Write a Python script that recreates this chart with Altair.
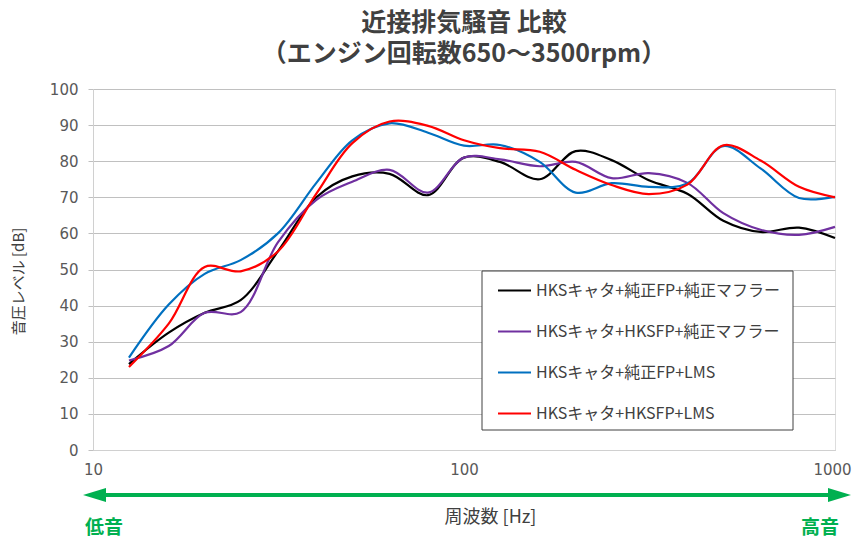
import altair as alt
import pandas as pd

freq = [12.5, 16, 20, 25, 31.5, 40, 50, 63, 80, 100, 125, 160, 200, 250, 315, 400, 500, 630, 800, 1000]

series_names = [
    "HKSキャタ+純正FP+純正マフラー",
    "HKSキャタ+HKSFP+純正マフラー",
    "HKSキャタ+純正FP+LMS",
    "HKSキャタ+HKSFP+LMS",
]
series_colors = ["#000000", "#7030a0", "#0070c0", "#ff0000"]

black = [23.8, 32.5, 38, 41.5, 55, 70, 75.8, 76.5, 70.6, 81, 79.8, 75, 82.8, 80.3, 74.7, 71, 63.5, 60.4, 61.6, 58.7]
purple = [24.8, 28.8, 38, 38.2, 57.5, 69.3, 74.3, 77.6, 71.3, 81, 80.5, 78.6, 79.8, 75.3, 76.7, 74, 65.6, 61, 59.6, 61.8]
blue = [25.6, 40.3, 48.8, 52.6, 60, 74, 85.8, 90.5, 87.9, 84.3, 84.5, 79.8, 71.3, 73.9, 72.9, 73.8, 84.2, 78, 69.8, 70.1]
red = [23, 35, 50.7, 49.5, 55, 71, 85, 91, 89.8, 85.8, 83.6, 82.6, 77.6, 73.4, 70.9, 73.5, 84.4, 80.2, 72.9, 70]

x_ticks = [10, 100, 1000]
y_ticks = [0, 10, 20, 30, 40, 50, 60, 70, 80, 90, 100]

rows = []
for name, vals in zip(series_names, [black, purple, blue, red]):
    for f, v in zip(freq, vals):
        rows.append({"freq": f, "db": v, "series": name})
df = pd.DataFrame(rows)

JP = "Noto Sans CJK JP"
NUM = "DejaVu Sans"
GREEN = "#00b050"

lines = alt.Chart(df).mark_line(interpolate="catmull-rom", strokeWidth=2.2).encode(
    x=alt.X("freq:Q",
            scale=alt.Scale(type="log", domain=[10, 1000], nice=False),
            axis=alt.Axis(values=x_ticks, format="d", grid=False, ticks=False,
                          labelFlush=False, labelFont=NUM, labelFontSize=15,
                          labelColor="#595959", labelPadding=12,
                          labelOffset=alt.condition("datum.value >= 1000", alt.value(-3), alt.value(0)),
                          domainColor="#d0d0d0", domainWidth=1,
                          title="周波数 [Hz]", titleFont=JP, titleFontSize=18,
                          titleFontWeight="normal", titleColor="#404040",
                          titleX=397, titleY=67, titleAlign="center",
                          titleBaseline="middle")),
    y=alt.Y("db:Q",
            scale=alt.Scale(domain=[0, 100], nice=False),
            axis=alt.Axis(values=y_ticks, grid=True, gridColor="#c0c0c0",
                          tickColor="#c0c0c0", tickSize=5, labelPadding=10,
                          labelFont=NUM, labelFontSize=15, labelColor="#595959",
                          domainColor="#d0d0d0",
                          title="音圧レベル [dB]", titleFont=JP, titleFontSize=15,
                          titleFontWeight="normal", titleColor="#404040",
                          titleX=-75, titleY=192, titleAlign="center",
                          titleBaseline="middle")),
    color=alt.Color("series:N",
                    scale=alt.Scale(domain=series_names, range=series_colors),
                    legend=alt.Legend(orient="none", legendX=404, legendY=184,
                                      title=None, padding=0,
                                      symbolType="stroke", symbolSize=1089,
                                      symbolStrokeWidth=2, labelFont=JP,
                                      labelFontSize=16, labelColor="#404040",
                                      labelLimit=400, rowPadding=15,
                                      labelOffset=4)),
)

one = pd.DataFrame({"k": [0]})

legend_box = alt.Chart(one).mark_rect(fill="white", stroke="#404040", strokeWidth=1).encode(
    x=alt.value(389), x2=alt.value(700), y=alt.value(182), y2=alt.value(341)
)
arrow_line = alt.Chart(one).mark_rule(color=GREEN, strokeWidth=4).encode(
    x=alt.value(6), x2=alt.value(740), y=alt.value(406)
)
arrow_left = alt.Chart(one).mark_point(
    shape="M-1,0L1,-0.6L1,0.6Z", filled=True, size=529, color=GREEN, opacity=1
).encode(x=alt.value(1.5), y=alt.value(406))
arrow_right = alt.Chart(one).mark_point(
    shape="M1,0L-1,-0.6L-1,0.6Z", filled=True, size=529, color=GREEN, opacity=1
).encode(x=alt.value(746.5), y=alt.value(406))
low_txt = alt.Chart(one).mark_text(
    font=JP, fontSize=19, fontWeight="bold", color=GREEN, align="center", baseline="middle"
).encode(x=alt.value(11), y=alt.value(439), text=alt.value("低音"))
high_txt = alt.Chart(one).mark_text(
    font=JP, fontSize=19, fontWeight="bold", color=GREEN, align="center", baseline="middle"
).encode(x=alt.value(727), y=alt.value(439), text=alt.value("高音"))

chart = alt.layer(lines, legend_box, arrow_line, arrow_left, arrow_right, low_txt, high_txt).properties(
    width=742,
    height=361,
    autosize=alt.AutoSizeParams(type="none"),
    padding={"left": 85, "top": 81, "right": 17, "bottom": 94},
    title=alt.TitleParams(
        "近接排気騒音 比較",
        subtitle="（エンジン回転数650～3500rpm）",
        font=JP, fontSize=25, fontWeight="bold", color="#404040",
        subtitleFont=JP, subtitleFontSize=25, subtitleFontWeight="bold",
        subtitleColor="#404040", subtitlePadding=6,
        anchor="middle", offset=15,
    ),
).configure_view(stroke=None).configure(background="white")

chart.save("out.html", embed_options={"renderer": "svg", "actions": False})
